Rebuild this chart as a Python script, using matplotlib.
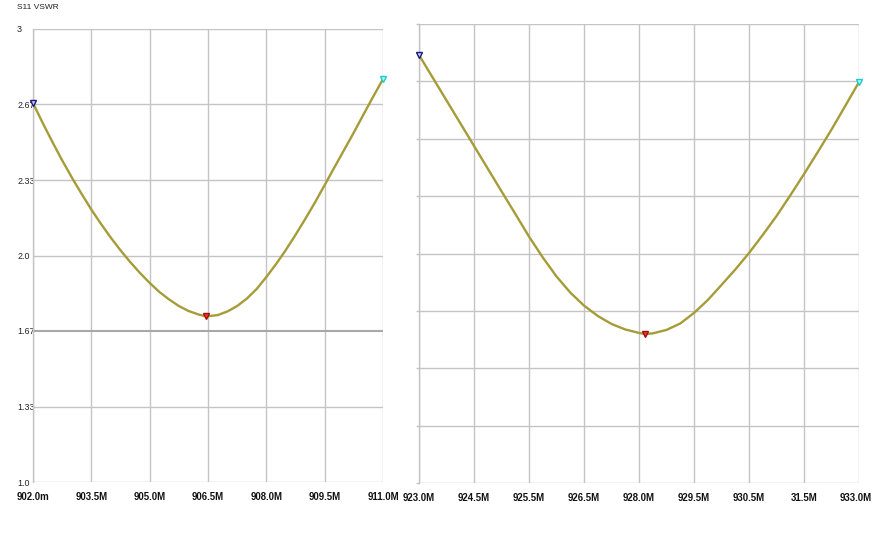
import numpy as np
import matplotlib
matplotlib.use("Agg")
import matplotlib.pyplot as plt
from matplotlib.transforms import ScaledTranslation

# ---------------- data ----------------
left_freq = [902.0, 902.25, 902.5, 902.75, 903.0, 903.25, 903.5, 903.75, 904.0, 904.25,
             904.5, 904.75, 905.0, 905.25, 905.5, 905.75, 906.0, 906.25, 906.45, 906.75,
             907.0, 907.25, 907.5, 907.75, 908.0, 908.25, 908.5, 908.75, 909.0, 909.25,
             909.5, 909.75, 910.0, 910.25, 910.5, 910.75, 911.0]
left_vswr = [2.673, 2.585, 2.501, 2.420, 2.344, 2.272, 2.203, 2.139, 2.079, 2.023,
             1.971, 1.923, 1.879, 1.839, 1.806, 1.777, 1.755, 1.740, 1.731, 1.737,
             1.753, 1.777, 1.810, 1.852, 1.905, 1.962, 2.024, 2.091, 2.161, 2.234,
             2.311, 2.389, 2.466, 2.543, 2.623, 2.702, 2.779]

right_freq = [923.0, 923.3125, 923.625, 923.9375, 924.25, 924.5625, 924.875, 925.1875,
              925.5, 925.8125, 926.125, 926.4375, 926.75, 927.0625, 927.375, 927.6875,
              928.0, 928.14, 928.3125, 928.625, 928.9375, 929.25, 929.5625, 929.875,
              930.1875, 930.5, 930.8125, 931.125, 931.4375, 931.75, 932.0625, 932.375,
              932.6875, 933.0]
right_vswr = [2.865, 2.766, 2.667, 2.568, 2.469, 2.370, 2.271, 2.173,
              2.074, 1.983, 1.900, 1.830, 1.773, 1.728, 1.693, 1.669,
              1.654, 1.649, 1.652, 1.667, 1.695, 1.741, 1.797, 1.863,
              1.930, 2.002, 2.081, 2.163, 2.253, 2.346, 2.442, 2.540,
              2.643, 2.747]

left_yticks = [1.0, 1.333, 1.667, 2.0, 2.333, 2.667, 3.0]
left_yticklabels = ["1.0", "1.33", "1.67", "2.0", "2.33", "2.67", "3"]
left_xticks = [902.0, 903.5, 905.0, 906.5, 908.0, 909.5, 911.0]
left_xticklabels = ["902.0m", "903.5M", "905.0M", "906.5M", "908.0M", "909.5M", "911.0M"]

right_xticks = [923.0, 924.25, 925.5, 926.75, 928.0, 929.25, 930.5, 931.75, 933.0]
right_xticklabels = ["923.0M", "924.5M", "925.5M", "926.5M", "928.0M", "929.5M",
                     "930.5M", "31.5M", "933.0M"]
right_yticks = [1.0, 1.25, 1.5, 1.75, 2.0, 2.25, 2.5, 2.75, 3.0]

title_text = "S11 VSWR"

# ---------------- style ----------------
FONT = ["Liberation Sans", "DejaVu Sans"]
TRACE = "#a59c38"
GRID = "#c4c4c4"

fig = plt.figure(figsize=(8.73, 5.47), dpi=100)
fig.patch.set_facecolor("white")

axL = fig.add_axes([33 / 873, (547 - 482) / 547, 350 / 873, 453 / 547])
axR = fig.add_axes([419 / 873, (547 - 483) / 547, 440 / 873, 459 / 547])


def style(ax):
    for s in ax.spines.values():
        s.set_visible(False)
    ax.spines["left"].set_visible(True)
    ax.spines["left"].set_color(GRID)
    ax.spines["left"].set_linewidth(1.0)
    ax.grid(True, color=GRID, linewidth=1.0)
    ax.set_axisbelow(True)
    ax.tick_params(axis="x", length=0, pad=7.5)


def markers(ax, f, v):
    i_min = int(np.argmin(v))
    ax.plot(f[0], v[0], marker="v", ms=5, mfc="#c8c8ff", mec="#1a1a7a", mew=1.0,
            ls="none", zorder=4, clip_on=False)
    ax.plot(f[i_min], v[i_min], marker="v", ms=5, mfc="#ff3030", mec="#a01010", mew=1.0,
            ls="none", zorder=4, clip_on=False)
    ax.plot(f[-1], v[-1], marker="v", ms=5, mfc="#a0ffff", mec="#20c8d0", mew=1.0,
            ls="none", zorder=4, clip_on=False)


# ---- left panel ----
style(axL)
axL.plot(left_freq, left_vswr, color=TRACE, lw=1.7, zorder=3)
markers(axL, left_freq, left_vswr)
axL.set_xlim(902.0, 911.0)
axL.set_ylim(1.0, 3.0)
axL.set_xticks(left_xticks)
axL.set_xticklabels(left_xticklabels, family=FONT, fontweight="bold", fontsize=6.9,
                    color="#111111")
axL.set_yticks(left_yticks)
axL.set_yticklabels(left_yticklabels, family=FONT, fontsize=6.4, color="#222222")
axL.tick_params(axis="y", length=0, pad=11.5)
for lab in axL.get_yticklabels():
    lab.set_horizontalalignment("left")
gl = axL.yaxis.get_gridlines()
gl[2].set_color("#a8a8a8")
gl[2].set_linewidth(1.5)

# ---- right panel ----
style(axR)
axR.plot(right_freq, right_vswr, color=TRACE, lw=1.7, zorder=3)
markers(axR, right_freq, right_vswr)
axR.set_xlim(923.0, 933.0)
axR.set_ylim(1.0, 3.0)
axR.set_xticks(right_xticks)
axR.set_xticklabels(right_xticklabels, family=FONT, fontweight="bold", fontsize=6.9,
                    color="#111111")
axR.set_yticks(right_yticks)
axR.set_yticklabels([])
axR.tick_params(axis="y", length=2.5, color=GRID, width=1.0)
last = axR.get_xticklabels()[-1]
last.set_transform(last.get_transform() + ScaledTranslation(-3 / 100, 0, fig.dpi_scale_trans))

fig.text(17 / 873, 1 - 7.5 / 547, title_text, family=FONT, fontsize=6.0,
         color="#222222", ha="left", va="center")

fig.savefig("out.png", dpi=100, facecolor="white")
